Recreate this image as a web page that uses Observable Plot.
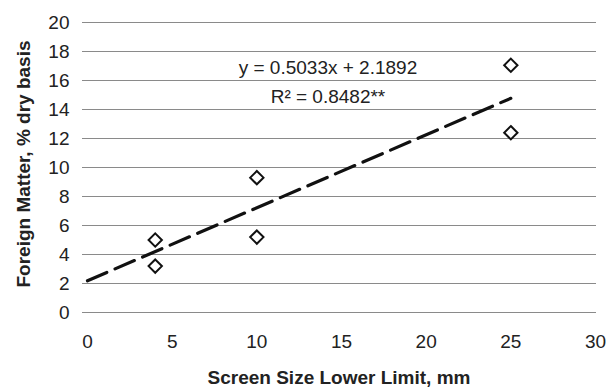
<!DOCTYPE html>
<html>
<head>
<meta charset="utf-8">
<script src="https://cdn.jsdelivr.net/npm/d3@7"></script>
<script src="https://cdn.jsdelivr.net/npm/@observablehq/plot@0.6"></script>
<style>
  html, body { margin: 0; padding: 0; background: #fff; }
  #chart svg { display: block; }
</style>
</head>
<body>
<div id="chart"></div>
<script>
// Data
const screenSize = [4, 4, 10, 10, 25, 25];
const foreignMatter = [5.0, 3.2, 5.2, 9.3, 17.05, 12.4];
const slope = 0.5033;
const intercept = 2.1892;
const trendRange = [0, 25];
const xTicks = [0, 5, 10, 15, 20, 25, 30];
const yTicks = [0, 2, 4, 6, 8, 10, 12, 14, 16, 18, 20];
const equationText = "y = 0.5033x + 2.1892";
const r2Text = "R\u00B2 = 0.8482**";

const points = screenSize.map((x, i) => ({x, y: foreignMatter[i]}));
const trend = trendRange.map(x => ({x, y: slope * x + intercept}));

const font = "'Liberation Sans', Arial, Helvetica, sans-serif";

const chart = Plot.plot({
  width: 613,
  height: 388,
  marginLeft: 87,
  marginRight: 18,
  marginTop: 22,
  marginBottom: 76,
  style: {fontFamily: font, fontSize: "19px", color: "#222", background: "#fff"},
  x: {domain: [0, 30], ticks: xTicks, label: null},
  y: {domain: [0, 20], ticks: yTicks, label: null},
  marks: [
    Plot.ruleY(yTicks, {stroke: "#8a8a8a", strokeWidth: 1, insetLeft: -5, insetRight: -1}),
    Plot.axisX({ticks: xTicks, tickSize: 0, tickPadding: 22, fontSize: 19, fill: "#222", label: null}),
    Plot.axisY({ticks: yTicks, tickSize: 0, tickPadding: 18, fontSize: 19, fill: "#222", label: null}),
    Plot.line(trend, {x: "x", y: "y", stroke: "#111", strokeWidth: 3.2, strokeDasharray: "21,9"}),
    Plot.dot(points, {x: "x", y: "y", symbol: "diamond2", r: 6, stroke: "#111", strokeWidth: 2, fill: "#fff"}),
    Plot.text([equationText], {x: 14.2, y: 16.9, text: d => d, fontSize: 19, fill: "#222"}),
    Plot.text([r2Text], {x: 14.2, y: 14.85, text: d => d, fontSize: 19, fill: "#222"})
  ]
});

// Axis titles added as real text in the SVG
const svg = d3.select(chart);
svg.append("text")
  .attr("x", 339).attr("y", 384)
  .attr("text-anchor", "middle")
  .attr("font-family", font).attr("font-size", 19).attr("font-weight", "bold").attr("fill", "#222")
  .text("Screen Size Lower Limit, mm");
svg.append("text")
  .attr("transform", "translate(30,164) rotate(-90)")
  .attr("text-anchor", "middle")
  .attr("font-family", font).attr("font-size", 19).attr("font-weight", "bold").attr("fill", "#222")
  .text("Foreign Matter, % dry basis");

document.getElementById("chart").appendChild(chart);
</script>
</body>
</html>
